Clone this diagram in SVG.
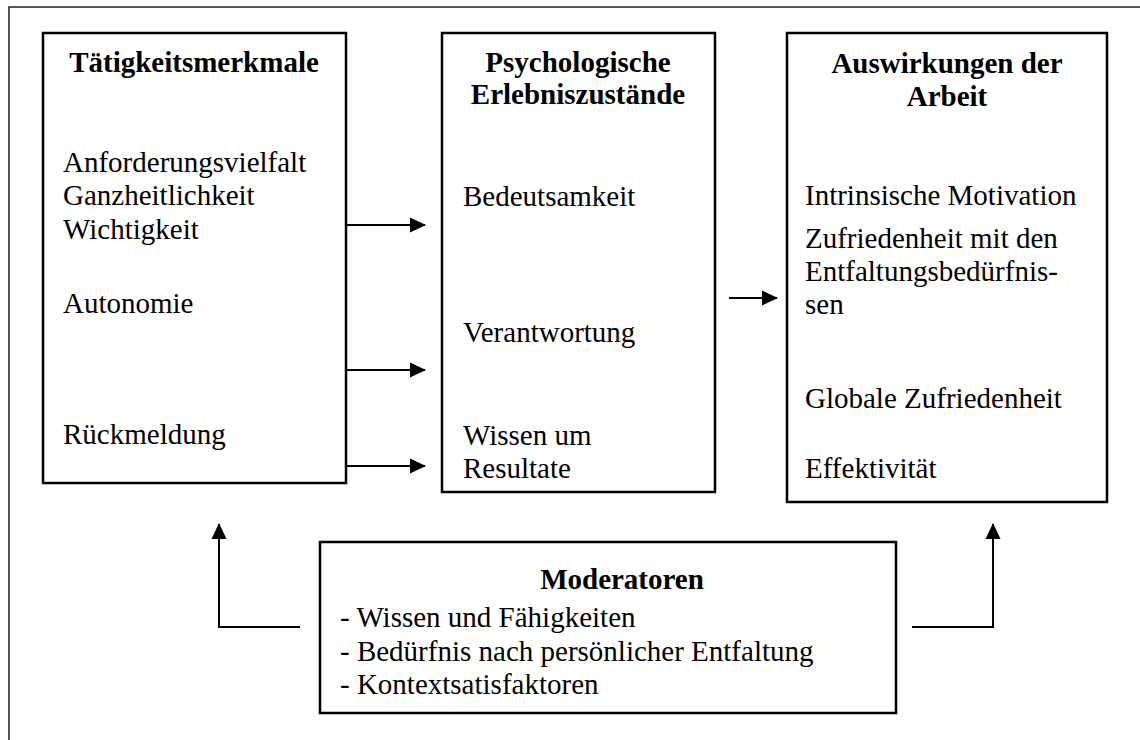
<svg xmlns="http://www.w3.org/2000/svg" width="1140" height="740" viewBox="0 0 1140 740">
<style>
text{font-family:"Liberation Serif","Times New Roman",serif;font-size:29px;fill:#000}
.h{font-weight:bold;text-anchor:middle}
.box{fill:#fff;stroke:#000;stroke-width:2.5}
.frame{fill:none;stroke:#222;stroke-width:1.5}
.con{fill:none;stroke:#000;stroke-width:2}
</style>
<defs>
<marker id="ah" markerWidth="16" markerHeight="16" refX="15" refY="8" orient="auto" markerUnits="userSpaceOnUse">
<path d="M0,0.5 L16,8 L0,15.5 Z" fill="#000"/>
</marker>
</defs>
<path class="frame" d="M9,740 L9,7 L1140,7"/>
<g id="taetigkeit">
<rect class="box" x="43" y="33" width="303" height="450"/>
<text class="h" x="194" y="72">Tätigkeitsmerkmale</text>
<text x="63" y="172">Anforderungsvielfalt</text>
<text x="63" y="205">Ganzheitlichkeit</text>
<text x="63" y="239">Wichtigkeit</text>
<text x="63" y="313">Autonomie</text>
<text x="63" y="444">Rückmeldung</text>
</g>
<g id="psych">
<rect class="box" x="442" y="33" width="273" height="459"/>
<text class="h" x="578" y="72">Psychologische</text>
<text class="h" x="578" y="104">Erlebniszustände</text>
<text x="463" y="206">Bedeutsamkeit</text>
<text x="463" y="342">Verantwortung</text>
<text x="463" y="445">Wissen um</text>
<text x="463" y="478">Resultate</text>
</g>
<g id="auswirkungen">
<rect class="box" x="787" y="33" width="320" height="469"/>
<text class="h" x="947" y="73">Auswirkungen der</text>
<text class="h" x="947" y="106">Arbeit</text>
<text x="805" y="205">Intrinsische Motivation</text>
<text x="805" y="248">Zufriedenheit mit den</text>
<text x="805" y="281">Entfaltungsbedürfnis-</text>
<text x="805" y="314">sen</text>
<text x="805" y="408">Globale Zufriedenheit</text>
<text x="805" y="478">Effektivität</text>
</g>
<g id="moderatoren">
<rect class="box" x="320" y="542" width="576" height="171"/>
<text class="h" x="622" y="589">Moderatoren</text>
<text x="340" y="627">- Wissen und Fähigkeiten</text>
<text x="340" y="661">- Bedürfnis nach persönlicher Entfaltung</text>
<text x="340" y="694">- Kontextsatisfaktoren</text>
</g>
<g id="connectors">
<path class="con" d="M346,225 L425,225" marker-end="url(#ah)"/>
<path class="con" d="M346,370 L425,370" marker-end="url(#ah)"/>
<path class="con" d="M346,466 L425,466" marker-end="url(#ah)"/>
<path class="con" d="M729,298 L777,298" marker-end="url(#ah)"/>
<path class="con" d="M300,627 L219,627 L219,524" marker-end="url(#ah)"/>
<path class="con" d="M912,627 L993,627 L993,524" marker-end="url(#ah)"/>
</g>
</svg>
